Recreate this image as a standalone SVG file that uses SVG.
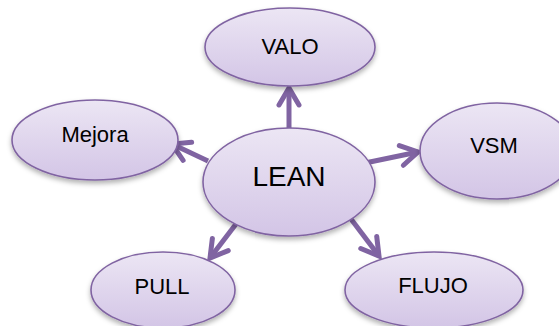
<svg xmlns="http://www.w3.org/2000/svg" width="559" height="326" viewBox="0 0 559 326">
<defs>
<linearGradient id="g" x1="0" y1="0" x2="0" y2="1">
<stop offset="0" stop-color="#ece6f4"/>
<stop offset="1" stop-color="#d3c5e6"/>
</linearGradient>
<filter id="sh" x="-20%" y="-20%" width="140%" height="150%">
<feDropShadow dx="0" dy="3" stdDeviation="2.5" flood-color="#000" flood-opacity="0.3"/>
</filter>
<marker id="ah" viewBox="0 0 26 26" refX="21" refY="13" markerWidth="26" markerHeight="26" markerUnits="userSpaceOnUse" orient="auto">
<path d="M4,3 L21,13 L4,23" fill="none" stroke="#8064a2" stroke-width="5" stroke-linecap="round" stroke-linejoin="miter"/>
</marker>
<style>
.n{fill:url(#g);stroke:#8064a2;stroke-width:1.6;filter:url(#sh)}
.t{font-family:"Liberation Sans",Arial,sans-serif;font-size:22px;fill:#000;text-anchor:middle}
.c{stroke:#8064a2;stroke-width:5;fill:none;marker-end:url(#ah)}
</style>
</defs>
<g id="connectors">
<line class="c" x1="289" y1="128" x2="289" y2="88"/>
<line class="c" x1="208" y1="161" x2="172" y2="144"/>
<line class="c" x1="365" y1="163" x2="418" y2="152"/>
<line class="c" x1="236" y1="224" x2="210" y2="258"/>
<line class="c" x1="351" y1="219" x2="379" y2="256"/>
</g>
<g id="valo"><ellipse class="n" cx="290" cy="47" rx="85" ry="39"/><text class="t" x="290" y="54">VALO</text></g>
<g id="mejora"><ellipse class="n" cx="95" cy="140" rx="83" ry="40"/><text class="t" x="95" y="142">Mejora</text></g>
<g id="vsm"><ellipse class="n" cx="497" cy="151" rx="77" ry="48"/><text class="t" x="494" y="153">VSM</text></g>
<g id="pull"><ellipse class="n" cx="163" cy="290" rx="72" ry="38"/><text class="t" x="162" y="294">PULL</text></g>
<g id="flujo"><ellipse class="n" cx="434" cy="290" rx="89" ry="38"/><text class="t" x="433" y="293">FLUJO</text></g>
<g id="lean"><ellipse class="n" cx="289" cy="182" rx="86" ry="54"/><text class="t" x="289" y="186" style="font-size:28px">LEAN</text></g>
</svg>
